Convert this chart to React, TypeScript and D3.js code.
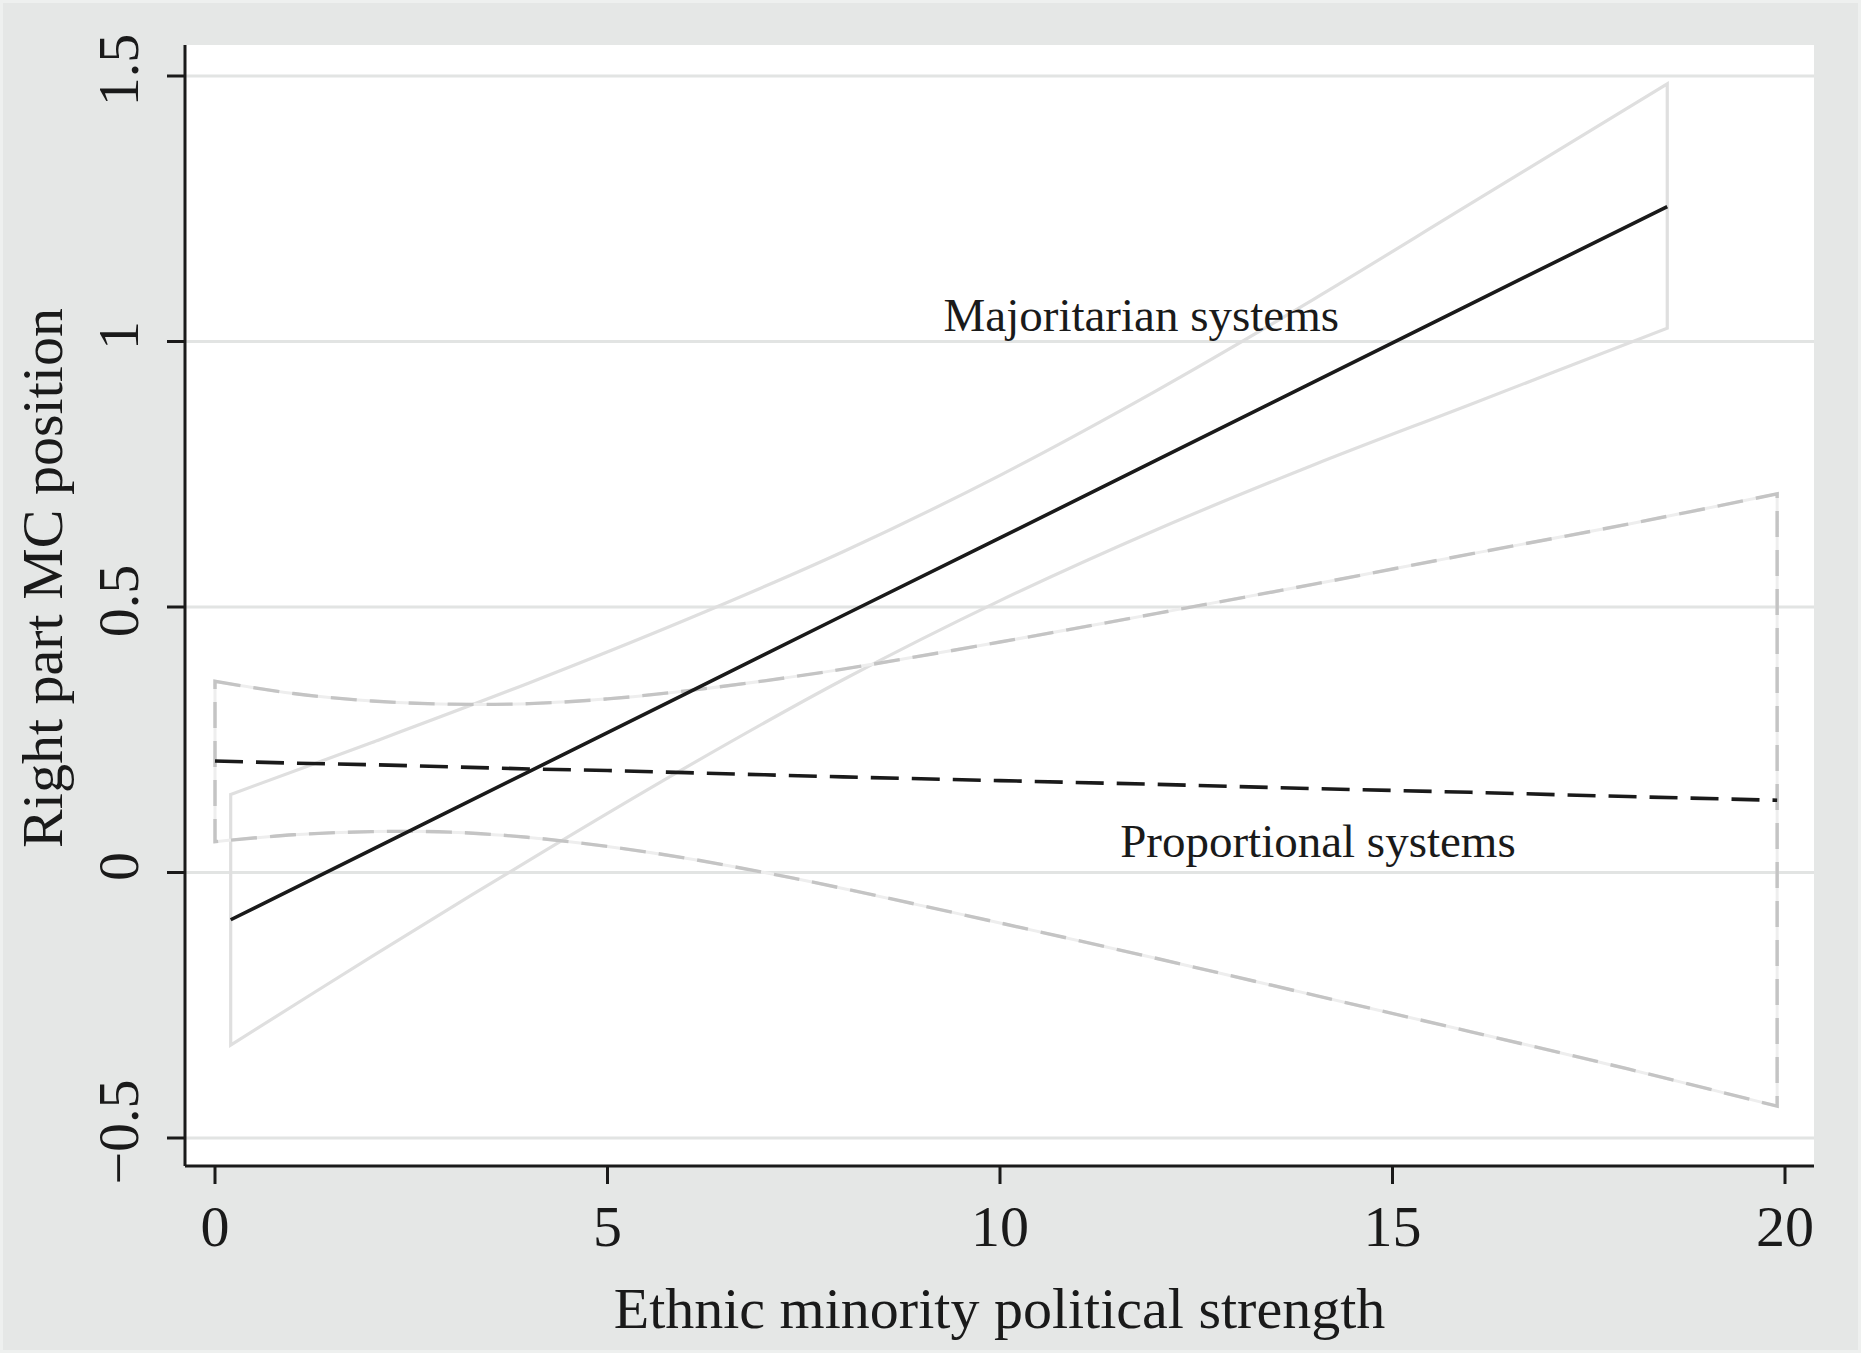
import { useEffect } from 'react';
import * as d3 from 'd3';

// Values (fitted lines with 95% CI bounds)
const xTicks = [0, 5, 10, 15, 20];
const yTicks = [-0.5, 0, 0.5, 1, 1.5];
const yTickLabels = ['\u22120.5', '0', '0.5', '1', '1.5'];

// Majoritarian systems
const majX = [0.2, 2, 4, 6, 8, 10, 12, 14, 16, 18.5];
const majFit = [-0.089, 0.043, 0.19, 0.337, 0.484, 0.63, 0.777, 0.924, 1.071, 1.254];
const majUpper = [0.147, 0.245, 0.357, 0.476, 0.604, 0.748, 0.908, 1.08, 1.26, 1.485];
const majLower = [-0.325, -0.158, 0.023, 0.198, 0.363, 0.512, 0.646, 0.768, 0.882, 1.025];

// Proportional systems
const propX = [0, 1, 2, 3, 4, 5, 6, 7, 8, 10, 12, 14, 16, 18, 19.9];
const propFit = [0.21, 0.206, 0.203, 0.199, 0.195, 0.192, 0.188, 0.184, 0.18, 0.173, 0.166, 0.158, 0.151, 0.143, 0.136];
const propUpper = [0.36, 0.337, 0.323, 0.317, 0.318, 0.327, 0.342, 0.361, 0.383, 0.434, 0.488, 0.543, 0.6, 0.656, 0.713];
const propLower = [0.058, 0.071, 0.077, 0.076, 0.066, 0.049, 0.027, 0.0, -0.03, -0.095, -0.162, -0.231, -0.3, -0.37, -0.44];

// Text labels placed in data coordinates
const labelText = ['Majoritarian systems', 'Proportional systems'];
const labelX = [11.8, 14.05];
const labelY = [1.05, 0.06];

const W = 1861;
const H = 1353;
const plot = { left: 185, right: 1814, top: 45, bottom: 1166 };
const FONT = "'Liberation Serif', 'Times New Roman', Times, serif";
const INK = '#1a1a1a';

export default function App() {
  useEffect(() => {
    document.body.style.margin = '0';
  }, []);

  const x = d3.scaleLinear().domain([0, 20]).range([215, 1785]);
  const y = d3.scaleLinear().domain([-0.5, 1.5]).range([1138, 76]);

  const curve = d3
    .line<[number, number]>()
    .x((d) => x(d[0]))
    .y((d) => y(d[1]))
    .curve(d3.curveCatmullRom.alpha(0.5));
  const straight = d3
    .line<[number, number]>()
    .x((d) => x(d[0]))
    .y((d) => y(d[1]));

  // closed outline: upper bound, down the right edge, lower bound back, up the left edge
  const band = (xs: number[], up: number[], lo: number[]) => {
    const u = xs.map((v, i) => [v, up[i]] as [number, number]);
    const l = xs.map((v, i) => [v, lo[i]] as [number, number]).reverse();
    return (curve(u) || '') + (curve(l) || '').replace(/^M/, 'L') + 'Z';
  };

  const majBand = band(majX, majUpper, majLower);
  const propBand = band(propX, propUpper, propLower);
  const majLine = straight(majX.map((v, i) => [v, majFit[i]] as [number, number])) || '';
  const propLine = straight(propX.map((v, i) => [v, propFit[i]] as [number, number])) || '';

  return (
    <svg width={W} height={H} style={{ display: 'block' }} fontFamily={FONT}>
      <rect width={W} height={H} fill="#e5e7e6" />
      <rect x={1.5} y={1.5} width={W - 3} height={H - 3} fill="none" stroke="#eef0ef" strokeWidth={3} />
      <rect
        x={plot.left}
        y={plot.top}
        width={plot.right - plot.left}
        height={plot.bottom - plot.top}
        fill="#ffffff"
      />

      {/* grid */}
      {yTicks.map((t) => (
        <line
          key={`g${t}`}
          x1={plot.left}
          x2={plot.right}
          y1={y(t)}
          y2={y(t)}
          stroke="#e2e4e3"
          strokeWidth={3.2}
        />
      ))}

      {/* confidence bands */}
      <path d={majBand} fill="none" stroke="#dfdfdf" strokeWidth={3.2} strokeLinejoin="miter" />
      <path d={propBand} fill="none" stroke="#eeeeee" strokeWidth={3} />
      <path d={propBand} fill="none" stroke="#c4c4c4" strokeWidth={3.4} strokeDasharray="26 13" />

      {/* fitted lines */}
      <path d={majLine} fill="none" stroke={INK} strokeWidth={3.6} />
      <path d={propLine} fill="none" stroke={INK} strokeWidth={3.6} strokeDasharray="28 13" />

      {/* labels */}
      {labelText.map((t, i) => (
        <text
          key={t}
          x={x(labelX[i])}
          y={y(labelY[i])}
          dy="0.34em"
          textAnchor="middle"
          fontSize={47}
          fill={INK}
        >
          {t}
        </text>
      ))}

      {/* y axis */}
      <line x1={plot.left} x2={plot.left} y1={plot.top} y2={plot.bottom} stroke={INK} strokeWidth={3} />
      {yTicks.map((t, i) => (
        <g key={`y${t}`}>
          <line x1={plot.left - 18} x2={plot.left} y1={y(t)} y2={y(t)} stroke={INK} strokeWidth={3} />
          <text
            transform={`translate(138,${y(t) - 6}) rotate(-90)`}
            textAnchor="middle"
            fontSize={58}
            fill={INK}
          >
            {yTickLabels[i]}
          </text>
        </g>
      ))}

      {/* x axis */}
      <line x1={plot.left} x2={plot.right} y1={plot.bottom} y2={plot.bottom} stroke={INK} strokeWidth={3} />
      {xTicks.map((t) => (
        <g key={`x${t}`}>
          <line x1={x(t)} x2={x(t)} y1={plot.bottom} y2={plot.bottom + 18} stroke={INK} strokeWidth={3} />
          <text x={x(t)} y={1246} textAnchor="middle" fontSize={58} fill={INK}>
            {t}
          </text>
        </g>
      ))}

      {/* axis titles */}
      <text x={(plot.left + plot.right) / 2} y={1328} textAnchor="middle" fontSize={58} fill={INK}>
        Ethnic minority political strength
      </text>
      <text transform="translate(62,578) rotate(-90)" textAnchor="middle" fontSize={58} fill={INK}>
        Right part MC position
      </text>
    </svg>
  );
}
